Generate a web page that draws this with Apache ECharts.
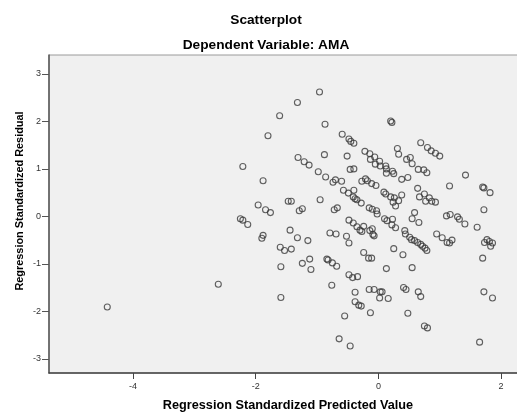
<!DOCTYPE html>
<html>
<head>
<meta charset="utf-8">
<script src="https://cdn.jsdelivr.net/npm/echarts@6/dist/echarts.min.js"></script>
<style>html,body{margin:0;padding:0;background:#fff;}#c{width:517px;height:412px;}</style>
</head>
<body>
<div id="c"></div>
<script>
const titleText = "Scatterplot";
const subtitleText = "Dependent Variable: AMA";
const xAxisName = "Regression Standardized Predicted Value";
const yAxisName = "Regression Standardized Residual";
const xTicks = [-4, -2, 0, 2];
const yTicks = [-3, -2, -1, 0, 1, 2, 3];

const predicted = [
-0.96,-1.32,-1.61,-0.87,-1.80,-0.59,-0.48,-0.45,-0.40,-0.88,
-0.51,-1.31,-1.21,-1.13,-2.21,-0.46,-0.40,-0.98,-0.86,-0.70,
-0.74,-0.60,-1.88,-0.57,-0.49,-0.40,-0.41,-0.38,-0.35,-0.95,
-1.47,-1.42,-1.96,-1.84,-1.76,-1.24,-1.29,-0.67,-0.72,-0.28,
0.20,0.22,0.69,0.80,0.86,0.93,1.00,-0.22,-0.14,-0.06,
0.02,-0.13,-0.05,0.03,0.12,0.13,0.23,0.25,0.13,0.31,
0.33,0.46,0.52,0.55,0.65,0.74,0.79,0.38,0.48,-0.27,
-0.21,-0.18,-0.11,-0.04,1.42,1.16,0.64,1.70,1.72,1.82,
0.67,0.75,0.83,0.87,0.93,0.77,0.09,0.12,0.20,0.26,
0.33,0.38,0.24,0.28,-0.15,-0.10,-0.03,1.72,-0.02,
-2.25,-2.21,-2.13,-1.44,-1.32,-1.15,-1.88,-1.90,-1.60,-1.53,
-1.42,-1.59,-1.24,-1.12,-1.10,-2.61,-1.59,-0.79,-0.69,-0.52,
-0.48,-0.48,-0.41,-0.35,-0.30,-0.84,-0.82,-0.75,-0.68,-0.76,
-0.48,-0.42,-0.34,-0.38,-0.38,-0.32,-0.55,-0.64,-0.46,
1.11,1.17,1.29,1.32,1.41,1.61,0.59,0.55,0.66,0.10,
0.14,0.23,0.22,0.28,0.43,0.44,0.51,0.54,0.59,0.64,
0.69,0.72,0.76,0.79,0.95,1.04,1.12,1.16,1.20,1.77,
1.81,1.73,1.86,1.83,1.70,1.72,1.86,1.65,-0.27,-0.24,
-0.14,-0.10,-0.07,-0.09,-0.24,-0.16,-0.11,0.25,0.40,0.13,
0.55,-0.28,-0.15,-0.07,0.03,0.06,0.02,0.16,0.41,0.45,
0.65,0.69,-0.13,0.48,0.75,0.80,-4.42
];
const residual = [
2.62,2.40,2.12,1.94,1.70,1.73,1.63,1.58,1.54,1.30,
1.27,1.24,1.15,1.08,1.05,0.99,1.00,0.94,0.83,0.77,
0.72,0.74,0.75,0.55,0.49,0.55,0.41,0.37,0.35,0.35,
0.32,0.32,0.24,0.14,0.08,0.16,0.12,0.18,0.14,0.28,
2.01,1.98,1.55,1.45,1.38,1.33,1.27,1.37,1.32,1.25,
1.16,1.20,1.10,1.06,1.06,1.00,0.95,0.90,0.91,1.43,
1.31,1.20,1.24,1.11,0.99,0.98,0.92,0.78,0.82,0.74,
0.79,0.75,0.69,0.65,0.87,0.64,0.59,0.62,0.60,0.50,
0.41,0.47,0.39,0.32,0.30,0.32,0.51,0.47,0.41,0.39,
0.33,0.45,0.30,0.22,0.18,0.15,0.12,0.14,0.05,
-0.05,-0.08,-0.17,-0.29,-0.45,-0.51,-0.40,-0.46,-0.65,-0.72,
-0.69,-1.06,-0.99,-0.90,-1.12,-1.43,-1.71,-0.35,-0.37,-0.42,
-0.56,-0.08,-0.14,-0.22,-0.29,-0.90,-0.92,-0.98,-1.05,-1.45,
-1.23,-1.29,-1.27,-1.60,-1.80,-1.87,-2.10,-2.58,-2.73,
0.01,0.04,-0.01,-0.06,-0.16,-0.23,0.08,-0.05,-0.13,-0.05,
-0.09,-0.06,-0.18,-0.24,-0.30,-0.37,-0.44,-0.49,-0.51,-0.55,
-0.59,-0.63,-0.67,-0.72,-0.37,-0.45,-0.55,-0.56,-0.50,-0.49,
-0.53,-0.55,-0.56,-0.63,-0.88,-1.59,-1.72,-2.65,-0.32,-0.21,
-0.30,-0.26,-0.41,-0.38,-0.76,-0.88,-0.88,-0.68,-0.81,-1.10,
-1.08,-1.89,-1.54,-1.54,-1.59,-1.59,-1.72,-1.73,-1.50,-1.54,
-1.59,-1.69,-2.03,-2.04,-2.31,-2.35,-1.91
];

const points = predicted.map((x, i) => [x, residual[i]]);
const font = "'Liberation Sans', Arial, sans-serif";

function boldText(text, size, x, y, rotation) {
  return {
    type: 'text', x: x, y: y, rotation: rotation || 0, z: 10,
    style: {text: text, fontFamily: font, fontWeight: 'bold', fontSize: size, fill: '#000',
            align: 'center', verticalAlign: 'middle'}
  };
}

const chart = echarts.init(document.getElementById('c'), null, {renderer: 'canvas'});
chart.setOption({
  backgroundColor: '#ffffff',
  animation: false,
  grid: {
    left: 49, top: 55, width: 476, height: 318,
    outerBoundsMode: 'none', containLabel: false,
    show: true, backgroundColor: '#f0f0f0', borderColor: '#9a9a9a', borderWidth: 1
  },
  graphic: [
    boldText(titleText, 13.7, 266, 20),
    boldText(subtitleText, 13.7, 266, 45.5),
    boldText(xAxisName, 12.7, 288, 405.5),
    boldText(yAxisName, 10.9, 20, 201, Math.PI / 2)
  ],
  xAxis: {
    type: 'value', min: -5.37, max: 2.39,
    axisLine: {show: true, onZero: false, lineStyle: {color: '#444', width: 1.5}},
    axisTick: {show: true, length: 6, lineStyle: {color: '#444'}, customValues: xTicks},
    axisLabel: {fontFamily: font, fontSize: 9, color: '#333', margin: 9, customValues: xTicks},
    splitLine: {show: false}
  },
  yAxis: {
    type: 'value', min: -3.30, max: 3.40,
    axisLine: {show: true, onZero: false, lineStyle: {color: '#555', width: 1.5}},
    axisTick: {show: true, length: 7, lineStyle: {color: '#555'}, customValues: yTicks},
    axisLabel: {fontFamily: font, fontSize: 9, color: '#333', margin: 8, customValues: yTicks},
    splitLine: {show: false}
  },
  series: [{
    type: 'scatter',
    data: points,
    symbol: 'circle',
    symbolSize: 6,
    itemStyle: {color: 'rgba(0,0,0,0)', borderColor: '#3a3a3a', borderWidth: 1.1},
    emphasis: {disabled: true}
  }]
});
</script>
</body>
</html>
